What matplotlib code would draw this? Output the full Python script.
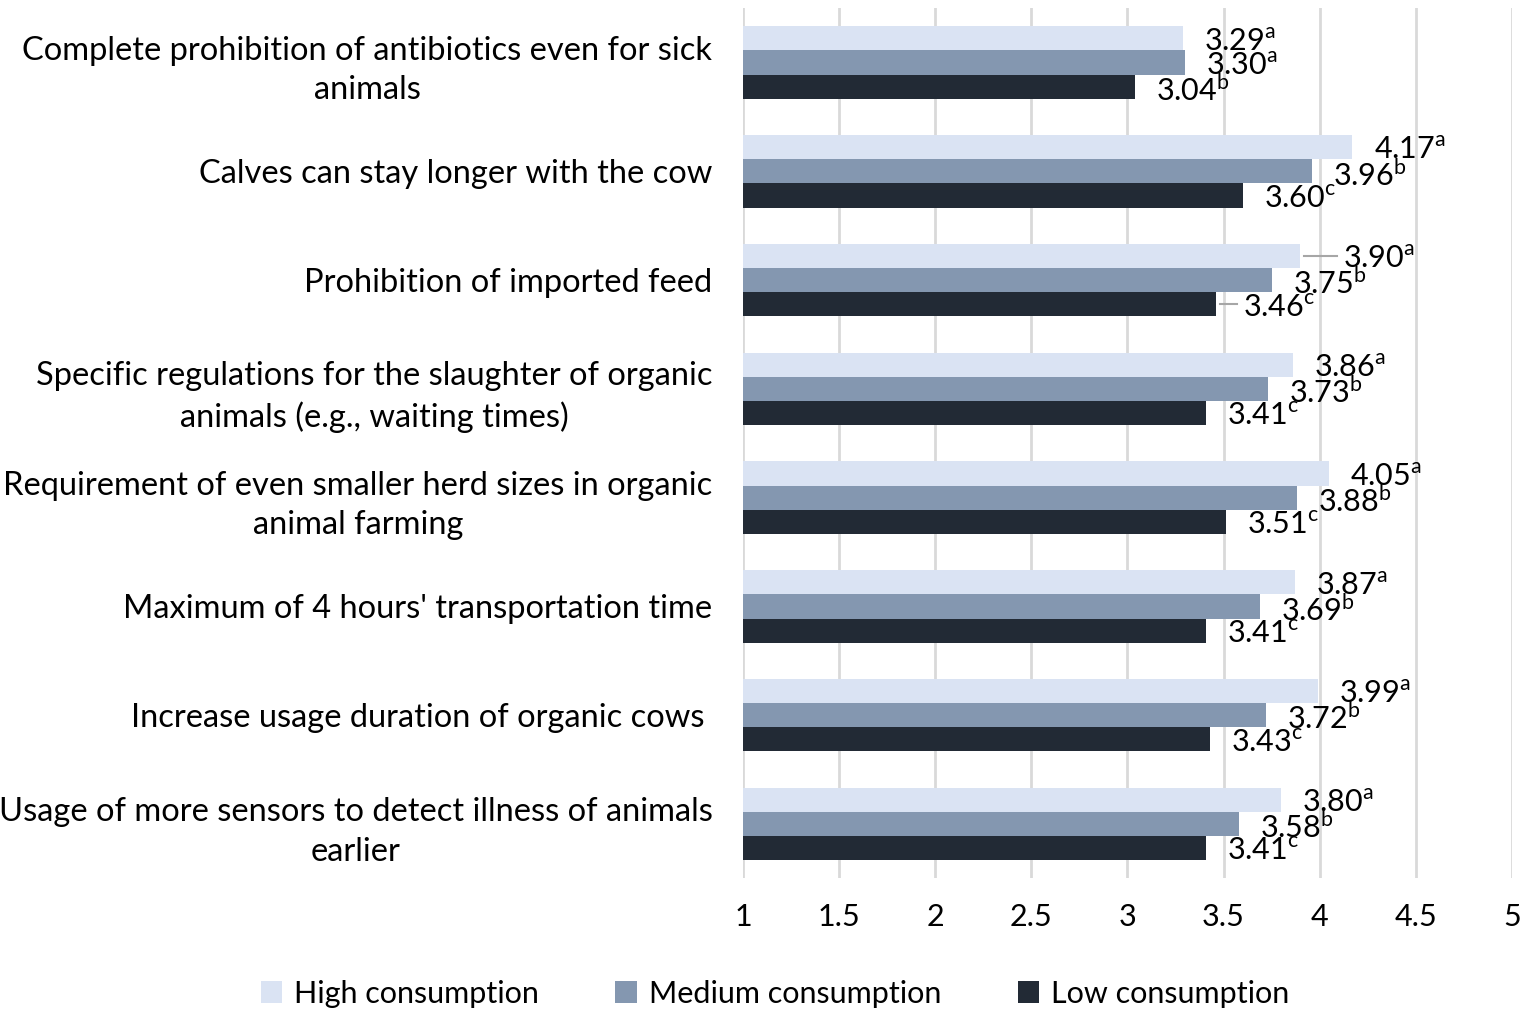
import numpy as np
import matplotlib.pyplot as plt

plt.rcParams['font.family'] = ['Lato', 'DejaVu Sans']
plt.rcParams['mathtext.fontset'] = 'custom'
plt.rcParams['mathtext.rm'] = 'Lato'

# Data
categories = [
    "Complete prohibition of antibiotics even for sick\nanimals",
    "Calves can stay longer with the cow",
    "Prohibition of imported feed",
    "Specific regulations for the slaughter of organic\nanimals (e.g., waiting times)",
    "Requirement of even smaller herd sizes in organic\nanimal farming",
    "Maximum of 4 hours' transportation time",
    "Increase usage duration of organic cows ",
    "Usage of more sensors to detect illness of animals\nearlier",
]
high = [3.29, 4.17, 3.90, 3.86, 4.05, 3.87, 3.99, 3.80]
medium = [3.30, 3.96, 3.75, 3.73, 3.88, 3.69, 3.72, 3.58]
low = [3.04, 3.60, 3.46, 3.41, 3.51, 3.41, 3.43, 3.41]
high_sup = ['a'] * 8
medium_sup = ['a', 'b', 'b', 'b', 'b', 'b', 'b', 'b']
low_sup = ['b', 'c', 'c', 'c', 'c', 'c', 'c', 'c']

series = [
    ("High consumption", high, high_sup, '#DAE3F3'),
    ("Medium consumption", medium, medium_sup, '#8497B0'),
    ("Low consumption", low, low_sup, '#222A35'),
]

# labels pushed further right with a leader line (series index, category index)
leaders = {(0, 2): 0.22, (2, 2): 0.14}

fig = plt.figure(figsize=(15.35, 10.19), dpi=100)
ax = fig.add_axes([0.484, 0.138, 0.501, 0.854])

y = np.arange(len(categories))
h = 0.222
offsets = [-h, 0, h]

for si, ((name, vals, sups, col), off) in enumerate(zip(series, offsets)):
    # bars start at 1 (axis minimum)
    ax.barh(y + off, np.array(vals) - 1, left=1, height=h, color=col,
            label=name, zorder=2)
    for yi, v, s in zip(y, vals, sups):
        dx = leaders.get((si, yi), 0.11)
        if (si, yi) in leaders:
            ax.plot([v + 0.02, v + dx - 0.03], [yi + off, yi + off],
                    color='#A6A6A6', lw=1.5, zorder=3)
        ax.text(v + dx, yi + off + 0.03, f"{v:.2f}$^{{\\mathrm{{{s}}}}}$",
                fontsize=22, va='center', ha='left', zorder=3)

ax.set_xlim(1, 5)
ax.set_ylim(len(categories) - 0.5, -0.5)
ax.set_xticks(np.arange(1, 5.01, 0.5))
ax.set_xticklabels(['1', '1.5', '2', '2.5', '3', '3.5', '4', '4.5', '5'])
ax.set_yticks(y)
ax.set_yticklabels(categories, multialignment='center', linespacing=1.4)
ax.tick_params(axis='x', length=0, labelsize=22, pad=18)
ax.tick_params(axis='y', length=0, labelsize=23.5, pad=22)
ax.grid(axis='x', color='#D9D9D9', linewidth=2, zorder=0)
ax.set_axisbelow(True)
for sp in ax.spines.values():
    sp.set_visible(False)

fig.legend(loc='lower center', ncol=3, bbox_to_anchor=(0.505, -0.016), frameon=False,
           fontsize=22, handlelength=0.7, handleheight=0.7, columnspacing=2.5,
           handletextpad=0.4)

plt.savefig('out.png', dpi=100)
